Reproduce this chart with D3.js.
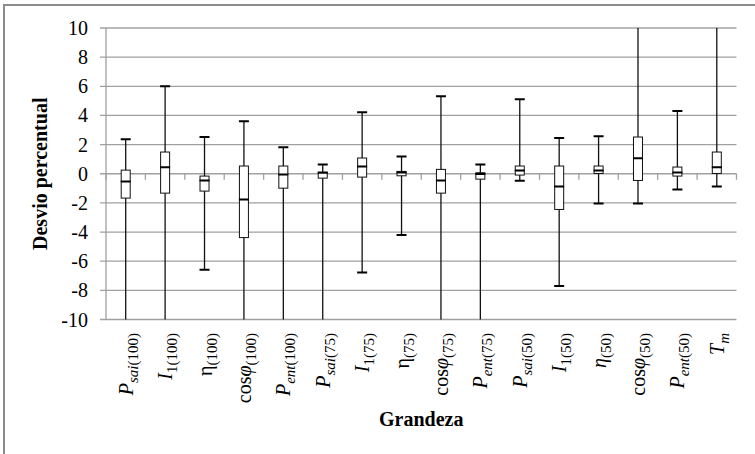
<!DOCTYPE html>
<meta charset="utf-8">
<style>
body{ margin:0; background:#fff; }
</style>
<body>
<script src="https://d3js.org/d3.v7.min.js"></script>
<script>
// categories (label parts: [text, italic, sub])
const categories = ["Psai100","I1_100","eta100","cos100","Pent100","Psai75","I1_75","eta75","cos75","Pent75","Psai50","I1_50","eta50","cos50","Pent50","Tm"];
const labelParts = [
    [["P",1,0],["sai",1,1],["(100)",0,1]],
    [["I",1,0],["1(100)",0,1]],
    [["η",0,0],["(100)",0,1]],
    [["cos",0,0],["φ",1,0],["(100)",0,1]],
    [["P",1,0],["ent",1,1],["(100)",0,1]],
    [["P",1,0],["sai",1,1],["(75)",0,1]],
    [["I",1,0],["1(75)",0,1]],
    [["η",0,0],["(75)",0,1]],
    [["cos",0,0],["φ",1,0],["(75)",0,1]],
    [["P",1,0],["ent",1,1],["(75)",0,1]],
    [["P",1,0],["sai",1,1],["(50)",0,1]],
    [["I",1,0],["1(50)",0,1]],
    [["η",1,0],["(50)",0,1]],
    [["cos",0,0],["φ",1,0],["(50)",0,1]],
    [["P",1,0],["ent",1,1],["(50)",0,1]],
    [["T",1,0],["m",1,1]]
];
// values (off-chart whiskers given as estimates beyond the axis)
const maxVals = [2.36, 6.0, 2.52, 3.6, 1.81, 0.64, 4.22, 1.19, 5.32, 0.64, 5.11, 2.45, 2.57, 12, 4.31, 12];
const q3Vals  = [0.25, 1.49, -0.16, 0.53, 0.53, 0.11, 1.08, 0.16, 0.3, 0.07, 0.53, 0.53, 0.53, 2.52, 0.46, 1.49];
const medVals = [-0.53, 0.44, -0.46, -1.77, -0.05, 0.07, 0.5, 0.09, -0.46, -0.02, 0.23, -0.87, 0.23, 1.06, 0.09, 0.44];
const q1Vals  = [-1.67, -1.33, -1.19, -4.38, -0.99, -0.3, -0.23, -0.14, -1.33, -0.37, -0.09, -2.45, 0.02, -0.46, -0.16, 0.02];
const minVals = [-12, -12, -6.58, -12, -12, -12, -6.77, -4.2, -12, -12, -0.48, -7.71, -2.04, -2.04, -1.08, -0.87];
const yTicks = [-10,-8,-6,-4,-2,0,2,4,6,8,10];

const width = 755, height = 454;
const margin = {left:106, right:18.5, top:28, bottom:135};
const serif = "'Liberation Serif', 'Times New Roman', 'DejaVu Serif', serif";

const svg = d3.select("body").append("svg")
    .attr("width", width).attr("height", height)
    .attr("font-family", serif);

svg.append("rect")
    .attr("x", 4).attr("y", 5)
    .attr("width", width + 10).attr("height", height + 10)
    .attr("fill", "none").attr("stroke", "#8c8c8c").attr("stroke-width", 2);

const x = d3.scaleBand().domain(categories)
    .range([margin.left, width - margin.right]);
const y = d3.scaleLinear().domain([-10, 10])
    .range([height - margin.bottom + 0.5, margin.top]);

// gridlines
svg.append("g").selectAll("line")
    .data(yTicks).join("line")
    .attr("x1", margin.left - 6).attr("x2", width - margin.right)
    .attr("y1", d => y(d)).attr("y2", d => y(d))
    .attr("stroke", "#a0a0a0").attr("stroke-width", 1.3);

// left axis line
svg.append("line")
    .attr("x1", margin.left).attr("x2", margin.left)
    .attr("y1", y(10)).attr("y2", y(-10))
    .attr("stroke", "#a0a0a0").attr("stroke-width", 1.3);

// x axis at zero with ticks
const xTickPos = categories.map(c => x(c)).concat([x.range()[1]]);
svg.append("g").selectAll("line")
    .data(xTickPos).join("line")
    .attr("x1", d => d).attr("x2", d => d)
    .attr("y1", y(0)).attr("y2", y(0) + 6)
    .attr("stroke", "#a0a0a0").attr("stroke-width", 1.3);

// y tick labels
svg.append("g").selectAll("text")
    .data(yTicks).join("text")
    .attr("x", 88).attr("y", d => y(d) + 7)
    .attr("text-anchor", "end")
    .attr("font-size", 20)
    .text(d => d);

svg.append("text")
    .attr("transform", `translate(47,${y(0)}) rotate(-90)`)
    .attr("text-anchor", "middle")
    .attr("font-size", 20).attr("font-weight", "bold")
    .text("Desvio percentual");

svg.append("defs").append("clipPath").attr("id", "plot")
    .append("rect")
    .attr("x", margin.left).attr("y", y(10))
    .attr("width", width - margin.right - margin.left)
    .attr("height", y(-10) - y(10));

const data = categories.map((c, i) => ({
    c, max: maxVals[i], q3: q3Vals[i], med: medVals[i], q1: q1Vals[i], min: minVals[i]
}));

const boxes = svg.append("g").attr("clip-path", "url(#plot)")
    .selectAll("g").data(data).join("g")
    .attr("transform", d => `translate(${x(d.c) + x.bandwidth() / 2},0)`);

boxes.append("line")
    .attr("y1", d => y(d.max)).attr("y2", d => y(d.min))
    .attr("stroke", "#111").attr("stroke-width", 1.3);
boxes.append("rect")
    .attr("x", -4.5).attr("width", 9)
    .attr("y", d => y(d.q3)).attr("height", d => y(d.q1) - y(d.q3))
    .attr("fill", "#fff").attr("stroke", "#111").attr("stroke-width", 1);
boxes.append("line")
    .attr("x1", -5).attr("x2", 5)
    .attr("y1", d => y(d.med)).attr("y2", d => y(d.med))
    .attr("stroke", "#000").attr("stroke-width", 2);
boxes.append("line")
    .attr("x1", -5).attr("x2", 5)
    .attr("y1", d => y(d.max)).attr("y2", d => y(d.max))
    .attr("stroke", "#000").attr("stroke-width", 2);
boxes.append("line")
    .attr("x1", -5).attr("x2", 5)
    .attr("y1", d => y(d.min)).attr("y2", d => y(d.min))
    .attr("stroke", "#000").attr("stroke-width", 2);

// category labels, rotated
const labels = svg.append("g").selectAll("text")
    .data(categories).join("text")
    .attr("transform", d => `translate(${x(d) + x.bandwidth() / 2 + 7},333) rotate(-90)`)
    .attr("text-anchor", "end")
    .attr("font-size", 20);
labels.each(function(d, i) {
    const t = d3.select(this);
    let sub = false;
    labelParts[i].forEach(p => {
        const ts = t.append("tspan").text(p[0])
            .attr("font-style", p[1] ? "italic" : "normal");
        if (p[2]) {
            ts.attr("font-size", 15);
            if (!sub) ts.attr("dy", 5);
            sub = true;
        } else if (sub) {
            ts.attr("dy", -5);
            sub = false;
        }
    });
});

svg.append("text")
    .attr("x", (margin.left + width - margin.right) / 2)
    .attr("y", 426)
    .attr("text-anchor", "middle")
    .attr("font-size", 20).attr("font-weight", "bold")
    .text("Grandeza");
</script>
</body>
</html>
